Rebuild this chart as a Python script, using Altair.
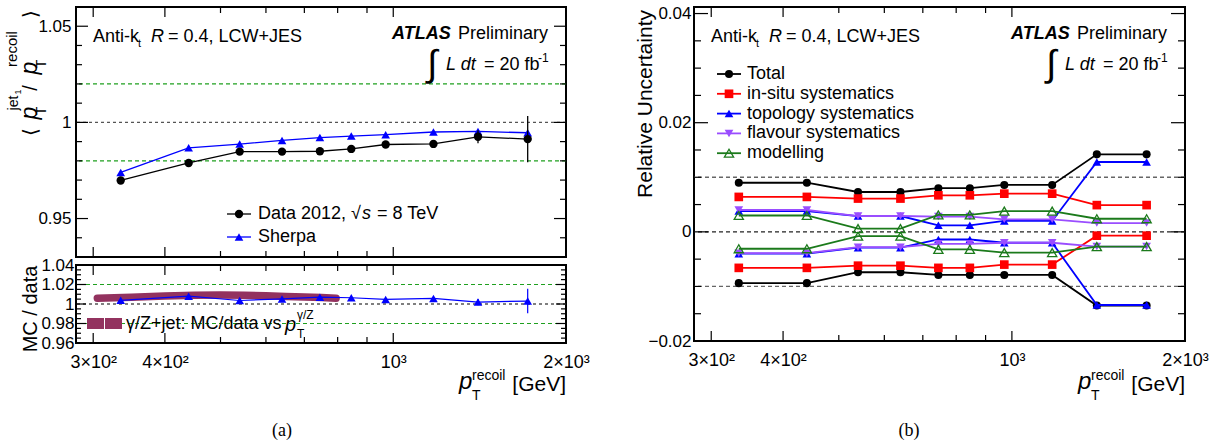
import altair as alt
import pandas as pd

FONT = "Liberation Sans"
SERIF = "Liberation Serif"

# bin centres, p_T^recoil [GeV]
pt = [335, 440, 540, 640, 745, 845, 970, 1175, 1405, 1715]

# (a) upper: <pT(jet1)/pT(recoil)>
data_2012 = [0.9698, 0.9789, 0.9848, 0.9848, 0.9850, 0.9862, 0.9885, 0.9888, 0.9925, 0.9913]
data_2012_err = [0.0005, 0.0005, 0.0006, 0.0007, 0.0008, 0.0009, 0.0011, 0.0015, 0.0034, 0.0120]
sherpa = [0.9740, 0.9868, 0.9887, 0.9906, 0.9921, 0.9929, 0.9936, 0.9950, 0.9953, 0.9946]

# (a) lower: MC / data
mc_over_data = [1.0038, 1.0080, 1.0036, 1.0052, 1.0070, 1.0064, 1.0047, 1.0057, 1.0020, 1.0030]
mc_over_data_err = [0.0006, 0.0006, 0.0007, 0.0008, 0.0009, 0.0010, 0.0012, 0.0016, 0.0032, 0.0126]
gz_pt = [305, 350, 400, 450, 500, 550, 600, 650, 700, 750, 795]
gz_ratio = [1.0060, 1.0070, 1.0082, 1.0090, 1.0092, 1.0090, 1.0085, 1.0078, 1.0072, 1.0066, 1.0058]

# (b) relative uncertainties (up / down variations)
total_up = [0.0090, 0.0090, 0.0073, 0.0073, 0.0080, 0.0080, 0.0086, 0.0086, 0.0142, 0.0142]
total_dn = [-0.0094, -0.0094, -0.0074, -0.0074, -0.0079, -0.0079, -0.0079, -0.0079, -0.0135, -0.0135]
insitu_up = [0.0064, 0.0064, 0.0061, 0.0061, 0.0067, 0.0067, 0.0070, 0.0070, 0.0049, 0.0049]
insitu_dn = [-0.0066, -0.0066, -0.0062, -0.0062, -0.0066, -0.0066, -0.0060, -0.0060, -0.0007, -0.0007]
topo_up = [0.0038, 0.0038, 0.0029, 0.0029, 0.0012, 0.0012, 0.0020, 0.0020, 0.0128, 0.0128]
topo_dn = [-0.0040, -0.0040, -0.0029, -0.0029, -0.0014, -0.0014, -0.0020, -0.0020, -0.0134, -0.0134]
flav_up = [0.0040, 0.0040, 0.0029, 0.0029, 0.0028, 0.0028, 0.0023, 0.0023, 0.0016, 0.0016]
flav_dn = [-0.0039, -0.0039, -0.0028, -0.0028, -0.0022, -0.0022, -0.0020, -0.0020, -0.0027, -0.0027]
model_up = [0.0030, 0.0030, 0.0006, 0.0006, 0.0031, 0.0031, 0.0038, 0.0038, 0.0024, 0.0024]
model_dn = [-0.0031, -0.0031, -0.0008, -0.0008, -0.0032, -0.0032, -0.0038, -0.0038, -0.0027, -0.0027]

# axis ticks
x_major = [300, 400, 1000]
x_minor = [500, 600, 700, 800, 900]
x_labels = [300, 400, 1000, 2000]
a_major = [0.95, 1.0, 1.05]
a_minor = [0.94, 0.96, 0.97, 0.98, 0.99, 1.01, 1.02, 1.03, 1.04]
r_major = [0.96, 0.98, 1.0, 1.02, 1.04]
r_minor = [0.965, 0.97, 0.975, 0.985, 0.99, 0.995, 1.005, 1.01, 1.015, 1.025, 1.03, 1.035]
u_major = [-0.02, 0.0, 0.02, 0.04]
u_minor = [-0.015, -0.01, -0.005, 0.005, 0.01, 0.015, 0.025, 0.03, 0.035]

GREEN_DASH = "#1fa01f"
BAND = "#93325f"
PURPLE = "#9a4dff"
MGREEN = "#1b7a1b"

W_A, H_A, H_R = 490, 250, 78
W_B, H_B = 491, 334

XSCALE = alt.Scale(type="log", domain=[280, 2000], nice=False)
X_LABEL_EXPR = ("datum.value == 300 ? '3×10²' : datum.value == 400 ? '4×10²' : "
                "datum.value == 1000 ? '10³' : '2×10³'")
X_AXIS = alt.Axis(values=x_labels, labelExpr=X_LABEL_EXPR, labelPadding=10, labelFlush=False,
                  labelOverlap=False, labelFontSize=18, title=None, ticks=False,
                  domain=False, grid=False)

ONE = alt.Data(values=[{}])


def xenc(axis):
    return alt.X("x:Q", scale=XSCALE, axis=axis)


def yenc(domain, axis, field="y"):
    return alt.Y(f"{field}:Q", scale=alt.Scale(domain=domain, nice=False, zero=False), axis=axis)


def txt(s, x, y, size=18, align="left", baseline="middle", angle=0, style="normal",
        weight="normal", font=FONT):
    return alt.Chart(ONE).mark_text(
        text=s, fontSize=size, align=align, baseline=baseline, angle=angle,
        fontStyle=style, fontWeight=weight, font=font, color="black"
    ).encode(x=alt.value(x), y=alt.value(y))


def hrule(x1, x2, y, color, width=1.8):
    return alt.Chart(ONE).mark_rule(color=color, strokeWidth=width).encode(
        x=alt.value(x1), x2=alt.value(x2), y=alt.value(y))


def glyph(x, y, shape, color, size=70, filled=True):
    return alt.Chart(ONE).mark_point(shape=shape, filled=filled, color=color, size=size,
                                     opacity=1, strokeWidth=1.3).encode(
        x=alt.value(x), y=alt.value(y))


def frame_ticks(W, H, xe, ye, ymaj, ymin, ymaj_len, ymin_len, xmaj_len=10, xmin_len=6):
    layers = []
    for vals, ln in ((x_major, xmaj_len), (x_minor, xmin_len)):
        base = alt.Chart(pd.DataFrame({"x": vals}))
        layers.append(base.mark_rule(color="black", strokeWidth=1.2).encode(
            x=xe, y=alt.value(H), y2=alt.value(H - ln)))
        layers.append(base.mark_rule(color="black", strokeWidth=1.2).encode(
            x=xe, y=alt.value(0), y2=alt.value(ln)))
    for vals, ln in ((ymaj, ymaj_len), (ymin, ymin_len)):
        base = alt.Chart(pd.DataFrame({"y": vals}))
        layers.append(base.mark_rule(color="black", strokeWidth=1.2).encode(
            y=ye, x=alt.value(0), x2=alt.value(ln)))
        layers.append(base.mark_rule(color="black", strokeWidth=1.2).encode(
            y=ye, x=alt.value(W), x2=alt.value(W - ln)))
    return layers


def header(W):
    return [
        txt("Anti-k", 17, 30, 18),
        txt("t", 62, 37, 11),
        txt("R", 75, 30, 18, style="italic"),
        txt("= 0.4, LCW+JES", 92, 30, 18),
        txt("ATLAS", W - 174, 27, 18, style="italic", weight="bold"),
        txt("Preliminary", W - 108, 27, 18),
        txt("∫", W - 134, 58, 37, align="center"),
        txt("L dt", W - 120, 58, 18, style="italic"),
        txt("= 20 fb", W - 82, 58, 18),
        txt("-1", W - 28, 51, 12),
    ]


def xtitle(W, ybase):
    return [
        txt("[GeV]", W, ybase, 21, align="right", baseline="alphabetic"),
        txt("p", W - 107, ybase - 2, 24, style="italic", baseline="alphabetic"),
        txt("recoil", W - 94, ybase - 11, 14, baseline="alphabetic"),
        txt("T", W - 94, ybase + 9, 14, baseline="alphabetic"),
    ]


# ---------------- (a) upper panel ----------------
YA = [0.93, 1.06]
XA = xenc(None)
YA_AX = alt.Axis(values=a_major, format=".2~f", labelPadding=5, title=None,
                 ticks=False, domain=False, grid=False, labelOverlap=False)
YAe = yenc(YA, YA_AX)

df_a = pd.DataFrame({"x": pt, "y": data_2012,
                     "lo": [v - e for v, e in zip(data_2012, data_2012_err)],
                     "hi": [v + e for v, e in zip(data_2012, data_2012_err)]})
df_sh = pd.DataFrame({"x": pt, "y": sherpa})

top_layers = [
    alt.Chart(pd.DataFrame({"y": [0.98, 1.02]})).mark_rule(
        color=GREEN_DASH, strokeDash=[4, 3], strokeWidth=1.2).encode(y=YAe),
    alt.Chart(pd.DataFrame({"y": [1.0]})).mark_rule(
        color="#555555", strokeDash=[3, 3], strokeWidth=1.3).encode(y=YAe),
    alt.Chart(df_sh).mark_line(color="#0000ff", strokeWidth=1.3).encode(x=XA, y=YAe),
    alt.Chart(df_sh).mark_point(shape="triangle-up", filled=True, color="#0000ff",
                                size=75, opacity=1).encode(x=XA, y=YAe),
    alt.Chart(df_a).mark_rule(color="black", strokeWidth=1.3).encode(
        x=XA, y=yenc(YA, YA_AX, "lo"), y2="hi:Q"),
    alt.Chart(df_a).mark_line(color="black", strokeWidth=1.3).encode(x=XA, y=YAe),
    alt.Chart(df_a).mark_point(shape="circle", filled=True, color="black",
                               size=70, opacity=1).encode(x=XA, y=YAe),
]
top_layers += frame_ticks(W_A, H_A, XA, YAe, a_major, a_minor, 12, 6)
top_layers += header(W_A)
top_layers += [
    hrule(151, 175, 207, "black", 1.3), glyph(163, 207, "circle", "black", 70),
    txt("Data 2012, √", 182, 207, 18),
    txt("s", 286, 207, 18, style="italic"),
    txt("= 8 TeV", 301, 207, 18),
    hrule(151, 175, 230, "#0000ff", 1.3), glyph(163, 230, "triangle-up", "#0000ff", 75),
    txt("Sherpa", 182, 230, 18),
]
# vertical y title pieces
top_layers += [
    txt("⟨", -45, 125, 20, align="center", angle=270, font="DejaVu Sans"),
    txt("p", -46, 106, 23, align="center", angle=270, style="italic"),
    txt("T", -34, 104, 14, align="center", angle=270),
    txt("jet", -62, 96, 14, align="center", angle=270),
    txt("1", -58, 85, 9, align="center", angle=270),
    txt("/", -45, 81, 20, align="center", angle=270),
    txt("p", -46, 61, 23, align="center", angle=270, style="italic"),
    txt("T", -34, 57, 14, align="center", angle=270),
    txt("recoil", -64, 42, 15, align="center", angle=270),
    txt("⟩", -45, 7, 20, align="center", angle=270, font="DejaVu Sans"),
]
panel_a_top = alt.layer(*top_layers).properties(width=W_A, height=H_A)

# ---------------- (a) lower panel ----------------
YR = [0.96, 1.04]
XR = xenc(X_AXIS)
YR_AX = alt.Axis(values=r_major, format=".2~f", labelPadding=2, title=None,
                 ticks=False, domain=False, grid=False, labelOverlap=False)
YRe = yenc(YR, YR_AX)

df_r = pd.DataFrame({"x": pt, "y": mc_over_data,
                     "lo": [v - e for v, e in zip(mc_over_data, mc_over_data_err)],
                     "hi": [v + e for v, e in zip(mc_over_data, mc_over_data_err)]})
df_gz = pd.DataFrame({"x": gz_pt, "y": gz_ratio})

low_layers = [
    alt.Chart(pd.DataFrame({"y": [0.98, 1.02]})).mark_rule(
        color=GREEN_DASH, strokeDash=[4, 3], strokeWidth=1.2).encode(y=YRe),
    alt.Chart(pd.DataFrame({"y": [1.0]})).mark_rule(
        color="#555555", strokeDash=[3, 3], strokeWidth=1.3).encode(y=YRe),
    alt.Chart(df_gz).mark_line(color=BAND, strokeWidth=7.5, strokeCap="round",
                               strokeJoin="round").encode(x=XR, y=YRe),
    alt.Chart(df_r).mark_rule(color="#0000ff", strokeWidth=1.2).encode(
        x=XR, y=yenc(YR, YR_AX, "lo"), y2="hi:Q"),
    alt.Chart(df_r).mark_line(color="#0000ff", strokeWidth=1.2).encode(x=XR, y=YRe),
    alt.Chart(df_r).mark_point(shape="triangle-up", filled=True, color="#0000ff",
                               size=75, opacity=1).encode(x=XR, y=YRe),
]
low_layers += frame_ticks(W_A, H_R, XR, YRe, r_major, r_minor, 10, 5)
low_layers += [
    alt.Chart(ONE).mark_rect(color=BAND).encode(
        x=alt.value(11), x2=alt.value(28), y=alt.value(53), y2=alt.value(64)),
    alt.Chart(ONE).mark_rect(color=BAND).encode(
        x=alt.value(29), x2=alt.value(46), y=alt.value(53), y2=alt.value(64)),
    txt("γ/Z+jet: MC/data vs", 50, 59, 18),
    txt("p", 209, 60, 20, style="italic"),
    txt("γ/Z", 221, 50, 12),
    txt("T", 221, 69, 12),
    txt("MC / data", -45, 44, 20, align="center", angle=270),
    txt("(a)", 206, 171, 18, align="center", baseline="alphabetic", font=SERIF),
]
low_layers += xtitle(W_A, 126)
panel_a_low = alt.layer(*low_layers).properties(width=W_A, height=H_R)

# ---------------- (b) uncertainties ----------------
YB = [-0.02, 0.0412]
XB = xenc(X_AXIS)
YB_AX = alt.Axis(values=u_major, format=".2~f", labelPadding=3, title=None,
                 ticks=False, domain=False, grid=False, labelOverlap=False)
YBe = yenc(YB, YB_AX)

series = [
    ("Total", total_up, total_dn, "black", "circle", True, 65),
    ("in-situ systematics", insitu_up, insitu_dn, "#ff0000", "square", True, 75),
    ("topology systematics", topo_up, topo_dn, "#0000ff", "triangle-up", True, 75),
    ("flavour systematics", flav_up, flav_dn, PURPLE, "triangle-down", True, 75),
    ("modelling", model_up, model_dn, MGREEN, "triangle-up", False, 85),
]

b_layers = [
    alt.Chart(pd.DataFrame({"y": [-0.01, 0.01]})).mark_rule(
        color="#666666", strokeDash=[4, 3], strokeWidth=1.3).encode(y=YBe),
    alt.Chart(pd.DataFrame({"y": [0.0]})).mark_rule(
        color="#222222", strokeDash=[4, 3], strokeWidth=1.3).encode(y=YBe),
]
for name, up, dn, color, shape, filled, size in series:
    df = pd.DataFrame({"x": pt + pt, "y": up + dn, "side": ["up"] * len(pt) + ["dn"] * len(pt)})
    b_layers.append(alt.Chart(df).mark_line(color=color, strokeWidth=1.8).encode(
        x=XB, y=YBe, detail="side:N"))
    b_layers.append(alt.Chart(df).mark_point(shape=shape, filled=filled, color=color,
                                             size=size, opacity=1, strokeWidth=1.3).encode(
        x=XB, y=YBe))
b_layers += frame_ticks(W_B, H_B, XB, YBe, u_major, u_minor, 14, 7)
b_layers += header(W_B)
for i, (name, up, dn, color, shape, filled, size) in enumerate(series):
    yy = 67 + i * 19.8
    b_layers += [hrule(23, 47, yy, color, 1.8), glyph(35, yy, shape, color, size, filled),
                 txt(name, 53, yy, 18)]
b_layers += [
    txt("Relative Uncertainty", -48, 97, 21, align="center", angle=270),
    txt("(b)", 215, 429, 18, align="center", baseline="alphabetic", font=SERIF),
]
b_layers += xtitle(W_B, 384)
panel_b = alt.layer(*b_layers).properties(width=W_B, height=H_B)

chart = alt.hconcat(
    alt.vconcat(panel_a_top, panel_a_low, spacing=8, bounds="flush"),
    panel_b, spacing=42,
).properties(
    padding={"left": 4, "top": 3, "right": 10, "bottom": 5},
    background="white",
).configure_view(
    stroke="black", strokeWidth=2
).configure_axis(
    labelFont=FONT, labelFontSize=17, labelColor="black"
)

chart.save("out.html", embed_options={"renderer": "svg", "actions": False})
